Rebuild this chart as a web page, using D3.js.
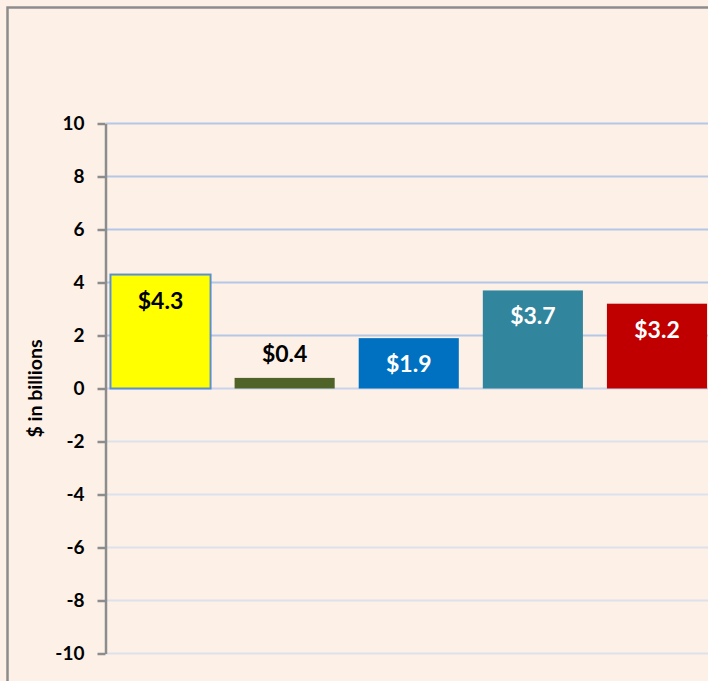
<!doctype html>
<html>
<head>
<meta charset="utf-8">
<script src="https://cdnjs.cloudflare.com/ajax/libs/d3/7.8.5/d3.min.js"></script>
<style>
  html, body { margin: 0; padding: 0; background: #fdf0e7; }
  svg { display: block; font-family: Lato, "Open Sans", sans-serif; }
</style>
</head>
<body>
<svg id="chart" width="708" height="681"></svg>
<script>
// chart data
var categories = ["A", "B", "C", "D", "E"];
var values = [4.3, 0.4, 1.9, 3.7, 3.2];
var labels = ["$4.3", "$0.4", "$1.9", "$3.7", "$3.2"];
var barColors = ["#ffff00", "#4f6228", "#0070c0", "#31859c", "#c00000"];
var labelColors = ["#000", "#000", "#fff", "#fff", "#fff"];
var yTicks = [-10, -8, -6, -4, -2, 0, 2, 4, 6, 8, 10];

var svg = d3.select("#chart");

// outer frame (cut off on right and bottom)
svg.append("rect")
  .attr("x", 7.5).attr("y", 7.5)
  .attr("width", 760).attr("height", 740)
  .attr("fill", "#fdf0e7")
  .attr("stroke", "#8c8c8c")
  .attr("stroke-width", 2.5);

var y = d3.scaleLinear().domain([-10, 10]).range([653.5, 123.5]);
var x = d3.scaleBand().domain(categories)
  .range([105.5, 712]).paddingInner(0.1935).paddingOuter(0.04);

// gridlines
svg.append("g").selectAll("line")
  .data(yTicks)
  .enter().append("line")
  .attr("x1", 106).attr("x2", 708)
  .attr("y1", d => y(d)).attr("y2", d => y(d))
  .attr("stroke", d => d > 0 ? "#b4c7e7" : (d == 0 ? "#c9d4ec" : "#dde1ec"))
  .attr("stroke-width", 2);

// bars
svg.append("g").selectAll("rect")
  .data(values)
  .enter().append("rect")
  .attr("x", (d, i) => x(categories[i]))
  .attr("y", d => y(d))
  .attr("width", x.bandwidth())
  .attr("height", d => y(0) - y(d))
  .attr("fill", (d, i) => barColors[i])
  .attr("stroke", (d, i) => i == 0 ? "#5b8fd0" : "none")
  .attr("stroke-width", 2);

// value labels
svg.append("g").selectAll("text")
  .data(values)
  .enter().append("text")
  .attr("x", (d, i) => x(categories[i]) + x.bandwidth() / 2)
  .attr("y", d => d < 1 ? y(d) - 16 : y(d) + 34)
  .attr("text-anchor", "middle")
  .attr("font-size", "23px")
  .attr("font-weight", "bold")
  .attr("fill", (d, i) => labelColors[i])
  .text((d, i) => labels[i]);

// y axis
var yAxis = d3.axisLeft(y).tickValues(yTicks).tickFormat(d => String(d))
  .tickSize(8).tickSizeOuter(0).tickPadding(13);
var ga = svg.append("g").attr("transform", "translate(105.5,0)").call(yAxis);
ga.select(".domain").attr("stroke", "#8c8c8c").attr("stroke-width", 2.5);
ga.selectAll(".tick line").attr("stroke", "#8c8c8c").attr("stroke-width", 2.5);
ga.selectAll(".tick text")
  .attr("font-size", "19px")
  .attr("font-weight", "bold")
  .attr("font-family", "Lato, sans-serif")
  .attr("fill", "#000");

// y title
svg.append("text")
  .attr("transform", "translate(42," + y(0) + ") rotate(-90)")
  .attr("text-anchor", "middle")
  .attr("font-size", "19.5px")
  .attr("font-weight", "bold")
  .text("$ in billions");
</script>
</body>
</html>
